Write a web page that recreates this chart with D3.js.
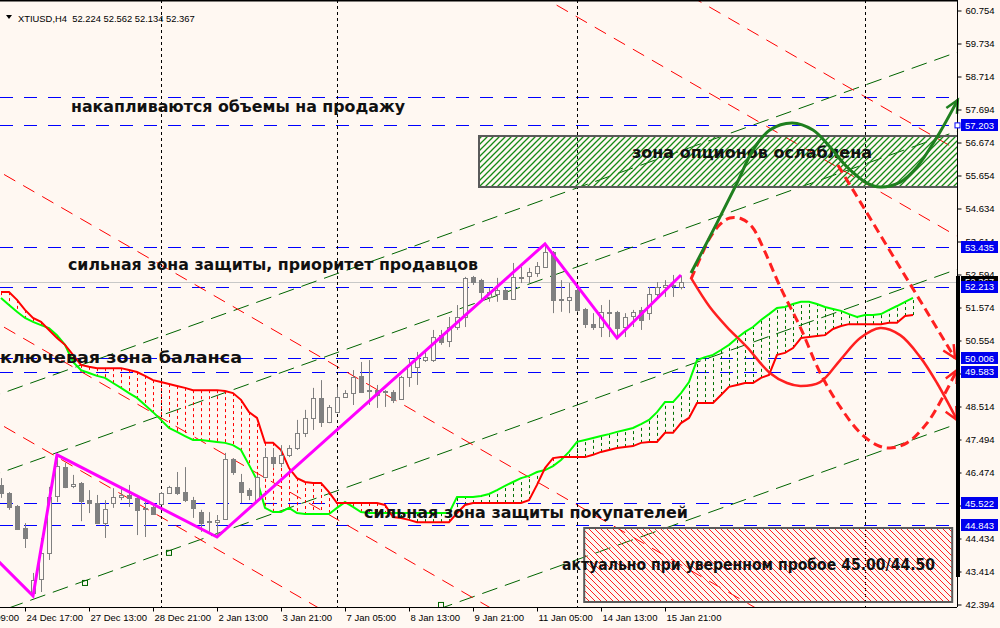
<!DOCTYPE html>
<html><head><meta charset="utf-8">
<script src="https://cdn.jsdelivr.net/npm/d3@7"></script>
<style>body{margin:0;background:#fff8f2}svg{display:block}</style>
</head><body>
<svg id="c" width="1000" height="628"></svg>
<script>
// ---------------- DATA ----------------
const symbolTitle = "XTIUSD,H4  52.224 52.562 52.134 52.367";
// candles [open, high, low, close], one per H4 bar
const candles = [
[46.09,46.30,45.69,45.84],[45.84,45.87,45.32,45.41],[45.44,45.47,44.70,44.73],[44.76,44.91,44.14,44.45],
[42.75,43.37,42.63,43.15],[43.18,44.45,42.78,43.99],[43.99,46.03,43.77,45.72],[45.75,47.05,45.56,46.68],
[46.64,46.77,45.99,46.03],[46.06,46.40,45.99,46.12],[46.15,46.18,44.97,45.59],[45.62,45.93,45.22,45.53],
[45.53,45.78,44.88,44.91],[44.91,45.62,44.45,45.35],[45.53,45.99,45.38,45.72],[45.72,45.99,45.62,45.78],
[45.78,46.09,45.41,45.69],[45.69,45.78,44.54,45.32],[45.38,45.62,44.48,45.35],[45.41,45.47,45.16,45.19],
[45.50,45.87,45.47,45.84],[45.84,46.06,45.81,46.03],[46.03,46.49,45.78,45.84],[45.87,46.64,45.56,45.62],
[45.62,45.72,45.07,45.38],[45.25,45.32,44.64,44.91],[44.94,45.25,44.64,44.97],[44.94,45.16,44.48,45.01],
[45.04,47.08,45.01,46.89],[46.89,46.92,46.40,46.49],[46.18,46.43,45.53,45.87],[45.93,45.99,45.62,45.78],
[45.62,46.40,45.59,46.34],[46.34,47.23,46.30,46.95],[46.95,47.23,46.61,46.77],[46.77,47.32,46.64,47.02],
[47.02,47.32,46.95,47.23],[47.23,48.10,47.17,47.70],[47.70,48.41,47.57,48.16],[48.16,49.09,47.79,48.78],
[48.78,49.33,47.88,48.04],[48.04,48.56,48.00,48.50],[48.35,49.12,48.31,48.81],[48.81,49.02,48.78,48.93],
[48.93,49.64,48.56,49.43],[49.46,49.89,48.93,48.96],[49.02,49.95,48.56,48.99],[49.02,49.18,48.47,48.87],
[48.99,49.02,48.50,48.96],[48.96,49.02,48.62,48.72],[48.75,49.46,48.72,49.43],[49.43,50.01,49.12,49.80],
[49.74,50.20,49.18,50.01],[49.95,50.26,49.89,50.04],[49.95,50.88,49.89,50.66],[50.72,50.88,50.42,50.51],
[50.54,51.28,50.35,50.97],[50.97,51.65,50.88,51.28],[51.28,52.52,50.97,52.49],[52.52,52.55,52.27,52.36],
[52.42,52.46,51.81,52.05],[51.90,52.18,51.75,52.05],[51.99,52.49,51.75,52.12],[52.12,52.18,51.81,51.84],
[51.84,52.95,51.81,52.52],[52.52,52.83,52.33,52.49],[52.55,52.80,52.33,52.67],[52.64,52.98,52.52,52.86],
[52.83,53.54,52.80,53.29],[53.29,53.32,51.40,51.81],[51.84,52.42,51.44,51.81],[51.81,52.33,51.40,51.90],
[52.12,52.21,51.44,51.50],[51.53,51.56,50.94,51.06],[51.06,51.40,50.88,50.97],[50.97,51.65,50.66,51.44],
[51.44,51.81,50.66,51.40],[51.44,51.47,50.63,50.94],[50.97,51.40,50.66,51.28],[51.31,51.50,50.97,51.44],
[51.50,51.59,50.88,51.19],[51.40,52.21,51.19,51.99],[51.99,52.36,51.90,52.21],[52.21,52.42,51.90,52.27],
[52.27,52.58,51.90,52.24],[52.224,52.562,52.134,52.367]
];
// Ichimoku cloud: red line (Senkou A) and lime line (Senkou B), bars 0..114
const spanA = [
52.05,52.05,51.81,51.50,51.25,51.13,50.88,50.63,50.42,50.11,49.80,49.74,49.70,49.70,49.70,49.70,49.64,49.58,49.46,49.33,
49.27,49.21,49.15,49.09,49.02,49.02,49.02,49.02,48.99,48.93,48.72,48.34,48.16,47.39,47.39,47.17,46.61,46.30,46.18,46.15,
46.15,45.87,45.53,45.53,45.53,45.53,45.53,45.53,45.47,45.10,45.07,45.01,44.94,44.94,44.94,44.94,44.94,45.22,45.47,45.53,
45.53,45.53,45.53,45.53,45.53,45.53,45.62,46.09,46.61,46.92,46.95,46.95,46.95,46.95,47.02,47.11,47.17,47.23,47.26,47.29,
47.39,47.42,47.42,47.70,47.70,48.00,48.16,48.62,48.62,48.62,48.87,49.12,49.18,49.24,49.24,49.40,49.49,50.11,50.17,50.32,
50.63,50.66,50.69,50.72,50.91,51.00,51.06,51.06,51.06,51.06,51.06,51.10,51.10,51.31,51.34
];
const spanB = [
51.87,51.65,51.44,51.25,51.13,51.03,50.94,50.72,50.42,49.89,49.64,49.55,49.46,49.40,49.24,49.09,48.93,48.78,48.56,48.34,
48.10,47.85,47.73,47.60,47.48,47.48,47.45,47.42,47.39,47.32,47.17,46.71,46.24,45.38,45.25,45.25,45.38,45.22,45.19,45.19,
45.19,45.19,45.38,45.56,45.41,45.25,45.22,45.22,45.22,45.22,45.22,45.22,45.22,45.22,45.22,45.22,45.22,45.72,45.72,45.72,
45.75,45.81,45.93,46.06,46.18,46.30,46.37,46.49,46.55,46.67,46.86,47.11,47.42,47.48,47.54,47.60,47.66,47.73,47.79,47.85,
47.97,48.10,48.34,48.65,48.65,48.93,49.27,49.95,50.04,50.11,50.26,50.42,50.63,50.82,50.97,51.19,51.37,51.56,51.59,51.68,
51.75,51.75,51.68,51.59,51.53,51.47,51.37,51.28,51.34,51.34,51.37,51.50,51.62,51.75,51.87
];
const priceTicks = [60.754,59.734,58.714,57.694,56.674,55.654,54.634,53.614,52.594,51.574,50.554,49.534,48.514,47.494,46.474,45.454,44.434,43.414,42.394];
const timeTickBars = [-5,3,11,19,27,35,43,51,59,67,75,83];
const timeTickLabels = ["23 Dec 09:00","24 Dec 17:00","27 Dec 13:00","28 Dec 21:00","2 Jan 13:00","3 Jan 21:00","7 Jan 05:00","8 Jan 13:00","9 Jan 21:00","11 Jan 05:00","14 Jan 13:00","15 Jan 21:00"];
const separatorBars = [20,42,72,108];
const levels = [58.065,57.203,53.435,52.213,50.006,49.583,45.522,44.843];
const labelledLevels = [57.203,53.435,52.213,50.006,49.583,45.522,44.843];
const bidPrice = 52.367;
// trend lines as two anchor points [bar, price]
const greenChannels = [[[0,37.42],[119,47.93]],[[0,42.20],[119,52.71]],[[0,46.47],[119,56.98]],[[0,48.91],[119,59.42]]];
const redChannels = [[[0,73.49],[119,56.52]],[[0,70.83],[119,53.85]],[[0,55.74],[119,38.77]],[[0,51.02],[119,34.04]],[[0,47.95],[119,30.98]]];
const anchorSquares = [[10.5,43.06],[21,43.99],[55,42.38]];
const zigzag = [[-1,43.9],[4,42.66],[7,47.02],[27,44.48],[68,53.54],[77,50.63],[85,52.58]];
const greenPath = [[86.25,52.64],[89.5,54.19],[92.0,55.42],[94.0,56.44],[96.1,57.06],[98.9,57.28],[101.5,57.06],[103.6,56.54],[105.75,55.92],[108.25,55.42],[109.9,55.30],[112.4,55.45],[114.5,55.92],[117.0,56.84],[119.6,57.99]];
const redDashPath = [[86.25,52.45],[87.4,53.10],[88.6,53.72],[89.9,54.15],[91.1,54.34],[92.6,54.31],[93.9,54.06],[95.5,53.29],[97.4,52.21],[99.9,50.97],[102.4,49.55],[104.9,48.50],[107.4,47.70],[109.5,47.32],[111.1,47.23],[113.25,47.39],[115.75,48.00],[117.75,48.81],[119.5,49.64]];
const redSolidPath = [[86.25,52.49],[88.6,51.59],[90.75,50.97],[93.25,50.35],[96.1,49.55],[98.25,49.24],[99.9,49.15],[102.4,49.27],[104.9,49.95],[107.4,50.63],[109.9,50.94],[112.4,50.72],[114.9,50.04],[117.0,49.24],[119.5,48.10]];
const redDashLine = [[104.6,55.98],[119.25,50.01]];
const greenZone = {bar0:59.75, bar1:120, top:56.875, bottom:55.299};
const redZone = {bar0:72.9, bar1:118.9, top:44.759, bottom:42.472};

// ---------------- DRAW ----------------
const PR = 957, PB = 607, BG = "#fff8f2";
const x = d3.scaleLinear().domain([0,119]).range([1,953]);
const y = d3.scaleLinear().domain([42.394,60.754]).range([604.5,10.5]);
const svg = d3.select("#c");
svg.append("rect").attr("width",1000).attr("height",628).attr("fill",BG);
const defs = svg.append("defs");
defs.append("clipPath").attr("id","plot").append("rect").attr("x",0).attr("y",0).attr("width",PR).attr("height",PB);
const pg = defs.append("pattern").attr("id","hatchG").attr("patternUnits","userSpaceOnUse").attr("width",6).attr("height",6);
pg.append("path").attr("d","M0,6 L6,0 M-1,1 L1,-1 M5,7 L7,5").attr("stroke","#138a13").attr("stroke-width",1.3);
const pr = defs.append("pattern").attr("id","hatchR").attr("patternUnits","userSpaceOnUse").attr("width",6).attr("height",6);
pr.append("path").attr("d","M0,0 L6,6 M-1,5 L1,7 M5,-1 L7,1").attr("stroke","#ff2020").attr("stroke-width",1);

const g = svg.append("g").attr("clip-path","url(#plot)");

// blue levels
g.selectAll(".lvl").data(levels).join("line")
 .attr("x1",0).attr("x2",PR).attr("y1",d=>Math.round(y(d))+0.5).attr("y2",d=>Math.round(y(d))+0.5)
 .attr("stroke","#0000ff").attr("stroke-width",1).attr("stroke-dasharray","13,11");
// bid line
g.append("line").attr("x1",0).attr("x2",PR).attr("y1",Math.round(y(bidPrice))+0.5).attr("y2",Math.round(y(bidPrice))+0.5)
 .attr("stroke","#c8c8c8").attr("stroke-width",1);

function extLine(sel, lines, color, dash){
  sel.selectAll(null).data(lines).join("line")
   .attr("x1",d=>x(-2)).attr("x2",d=>x(122))
   .attr("y1",d=>{const m=(d[1][1]-d[0][1])/(d[1][0]-d[0][0]);return y(d[0][1]+m*(-2-d[0][0]));})
   .attr("y2",d=>{const m=(d[1][1]-d[0][1])/(d[1][0]-d[0][0]);return y(d[0][1]+m*(122-d[0][0]));})
   .attr("stroke",color).attr("stroke-width",1).attr("stroke-dasharray",dash);
}
extLine(g, greenChannels, "#006400", "16,8");
extLine(g, redChannels, "#ff0000", "13,9");
g.selectAll(".sq").data(anchorSquares).join("rect")
 .attr("x",d=>x(d[0])-2.5).attr("y",d=>y(d[1])-2.5).attr("width",5).attr("height",5)
 .attr("fill","none").attr("stroke","#006400");

// separators
g.selectAll(".sep").data(separatorBars).join("line")
 .attr("x1",d=>x(d)+0.5).attr("x2",d=>x(d)+0.5).attr("y1",0).attr("y2",PB)
 .attr("stroke","#000").attr("stroke-width",1).attr("stroke-dasharray","3,3");

// cloud hatch
const idx = d3.range(spanA.length);
g.selectAll(".hat").data(idx.filter(i=>Math.abs(spanA[i]-spanB[i])>0.02)).join("line")
 .attr("x1",i=>x(i)+0.5).attr("x2",i=>x(i)+0.5).attr("y1",i=>y(spanA[i])).attr("y2",i=>y(spanB[i]))
 .attr("stroke",i=>spanA[i]>spanB[i]?"#ff0000":"#007000").attr("stroke-width",1).attr("stroke-dasharray","3,3");
g.append("path").attr("d",d3.line().x(i=>x(i)).y(i=>y(spanB[i]))(idx)).attr("fill","none").attr("stroke","#00ff00").attr("stroke-width",2);
g.append("path").attr("d",d3.line().x(i=>x(i)).y(i=>y(spanA[i]))(idx)).attr("fill","none").attr("stroke","#ff0000").attr("stroke-width",2);

// candles
const cg = g.append("g");
candles.forEach((c,i)=>{
  const cx = Math.round(x(i))+0.5;
  const bull = c[3]>=c[0];
  cg.append("line").attr("x1",cx).attr("x2",cx).attr("y1",y(c[1])).attr("y2",y(c[2])).attr("stroke","#808080");
  const t = Math.min(y(c[0]),y(c[3])), b = Math.max(y(c[0]),y(c[3]));
  cg.append("rect").attr("x",cx-2).attr("y",Math.round(t)+0.5).attr("width",4).attr("height",Math.max(1,Math.round(b-t)))
    .attr("fill",bull?BG:"#808080").attr("stroke","#808080");
});

// zigzag
g.append("path").attr("d",d3.line().x(d=>x(d[0])).y(d=>y(d[1]))(zigzag)).attr("fill","none").attr("stroke","#ff00ff").attr("stroke-width",3);

// zones
g.append("rect").attr("x",x(greenZone.bar0)).attr("y",y(greenZone.top)).attr("width",x(greenZone.bar1)-x(greenZone.bar0)).attr("height",y(greenZone.bottom)-y(greenZone.top))
 .attr("fill","url(#hatchG)").attr("stroke","#5a5a5a").attr("stroke-width",2);
g.append("rect").attr("x",x(redZone.bar0)).attr("y",y(redZone.top)).attr("width",x(redZone.bar1)-x(redZone.bar0)).attr("height",y(redZone.bottom)-y(redZone.top))
 .attr("fill","url(#hatchR)").attr("stroke","#5a5a5a").attr("stroke-width",2);

// texts
const tf = "'DejaVu Sans', sans-serif";
const texts = [
 ["накапливаются объемы на продажу",71,112,334,16.5],
 ["сильная зона защиты, приоритет продавцов",68,270,410,16.5],
 ["ключевая зона баланса",0,363,242,16.5],
 ["сильная зона защиты покупателей",364,518,324,16.5],
 ["зона опционов ослаблена",632,158,240,16.5],
 ["актуально при уверенном пробое 45.00/44.50",562,570,373,15.5]
];
texts.forEach(t=>{
  svg.append("text").attr("x",t[1]).attr("y",t[2]).attr("font-family",tf).attr("font-weight","bold")
   .attr("font-size",t[4]).attr("fill","#111").attr("textLength",t[3]).attr("lengthAdjust","spacingAndGlyphs").text(t[0]);
});

// forecast curves
const fg = svg.append("g").attr("clip-path","url(#plot)");
const curve = d3.line().x(d=>x(d[0])).y(d=>y(d[1])).curve(d3.curveCatmullRom.alpha(0.5));
fg.append("path").attr("d",curve(redDashPath)).attr("fill","none").attr("stroke","#ff2020").attr("stroke-width",3).attr("stroke-dasharray","9,5");
fg.append("path").attr("d",curve(redSolidPath)).attr("fill","none").attr("stroke","#ff2020").attr("stroke-width",2.5);
fg.append("path").attr("d",d3.line().x(d=>x(d[0])).y(d=>y(d[1]))(redDashLine)).attr("fill","none").attr("stroke","#ff2020").attr("stroke-width",3).attr("stroke-dasharray","9,5");
fg.append("path").attr("d",curve(greenPath)).attr("fill","none").attr("stroke","#1f7f1f").attr("stroke-width",3);
function head(pts,color){
  const a=pts[pts.length-2], b=pts[pts.length-1];
  const x1=x(a[0]),y1=y(a[1]),x2=x(b[0]),y2=y(b[1]);
  const ang=Math.atan2(y2-y1,x2-x1), L=14, s=0.45;
  const p1=[x2-L*Math.cos(ang-s),y2-L*Math.sin(ang-s)], p2=[x2-L*Math.cos(ang+s),y2-L*Math.sin(ang+s)];
  svg.append("path").attr("d",`M${p1}L${x2},${y2}L${p2}`).attr("fill","none").attr("stroke",color).attr("stroke-width",2.5);
}
head(greenPath,"#1f7f1f"); head(redDashPath,"#ff2020"); head(redSolidPath,"#ff2020"); head(redDashLine,"#ff2020");

// frame
svg.append("rect").attr("x",0).attr("y",0).attr("width",PR).attr("height",1.5).attr("fill","#000");
// right axis
const ra = svg.append("g").attr("transform",`translate(${PR+0.5},0)`)
 .call(d3.axisRight(y).tickValues(priceTicks).tickFormat(d3.format(".3f")).tickSize(4).tickPadding(4));
ra.select(".domain").attr("d",`M0,0V${PB}`).attr("stroke","#000");
ra.selectAll("text").attr("font-family","'Liberation Sans',Arial,sans-serif").attr("font-size",9.5).attr("fill","#000");
ra.selectAll("line").attr("stroke","#000");
// bottom axis
const ba = svg.append("g").attr("transform",`translate(0,${PB+0.5})`)
 .call(d3.axisBottom(x).tickValues(timeTickBars).tickFormat((d,i)=>timeTickLabels[i]).tickSize(4).tickPadding(3));
ba.select(".domain").attr("d",`M0,0H${PR}`).attr("stroke","#000");
ba.selectAll("text").attr("font-family","'Liberation Sans',Arial,sans-serif").attr("font-size",9.5).attr("fill","#000").attr("text-anchor","start").attr("dx","1");
ba.selectAll("line").attr("stroke","#000");
// current bid label (black) and level labels (blue)
svg.append("rect").attr("x",961).attr("y",Math.round(y(bidPrice))-6).attr("width",37).attr("height",12).attr("fill","#000");
svg.append("text").attr("x",965).attr("y",y(bidPrice)+3.5).attr("font-family","'Liberation Sans',Arial,sans-serif").attr("font-size",9.5).attr("fill","#fff").text(d3.format(".3f")(bidPrice));
labelledLevels.forEach(v=>{
  svg.append("rect").attr("x",961).attr("y",Math.round(y(v))-6).attr("width",37).attr("height",12).attr("fill","#0000ee");
  svg.append("text").attr("x",965).attr("y",y(v)+3.5).attr("font-family","'Liberation Sans',Arial,sans-serif").attr("font-size",9.5).attr("fill","#fff").text(d3.format(".3f")(v));
});
svg.append("rect").attr("x",956).attr("y",276).attr("width",4).attr("height",301).attr("fill","#000");
svg.append("rect").attr("x",955).attr("y",y(57.203)-2.5).attr("width",5).attr("height",5).attr("fill","#fff").attr("stroke","#0000ff");
// title
svg.append("path").attr("d","M6,15L12,15L9,19Z").attr("fill","#000");
svg.append("text").attr("x",18).attr("y",22).attr("font-family","'Liberation Sans',Arial,sans-serif").attr("font-size",9.4).attr("fill","#000").attr("xml:space","preserve").style("white-space","pre").text(symbolTitle);
</script>
</body></html>
